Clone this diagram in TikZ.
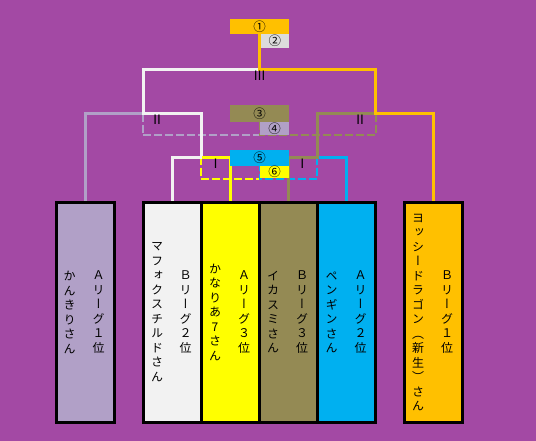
\documentclass[tikz,border=0pt]{standalone}
\usepackage{fontspec}
\newfontfamily\jp{Noto Sans CJK JP}
\newfontfamily\jpv[RawFeature=+vert]{Noto Sans CJK JP}
\definecolor{bgp}{HTML}{A349A4}
\definecolor{cor}{HTML}{FFC000}
\definecolor{cgr}{HTML}{DCDCDC}
\definecolor{cwh}{HTML}{F2F2F2}
\definecolor{clv}{HTML}{B1A0C7}
\definecolor{cye}{HTML}{FFFF00}
\definecolor{col}{HTML}{948A54}
\definecolor{cbl}{HTML}{00B0F0}
\pgfdeclarelayer{back}
\pgfdeclarelayer{lines}
\pgfsetlayers{back,lines,main}
\tikzset{
  lbox/.style={draw=black, line width=3pt, minimum width=58pt, minimum height=219.5pt, inner sep=0pt, outer sep=0pt},
  vtext/.style={align=center, inner sep=0pt, font=\jpv\fontsize{12}{14.5}\selectfont},
  numbox/.style={inner sep=0pt, outer sep=0pt, font=\jp\fontsize{12.5}{12.5}\selectfont},
  roman/.style={inner sep=0pt, font=\jp\fontsize{13}{13}\selectfont},
  solid line/.style={line width=3pt},
  dash line/.style={line width=2pt, dash pattern=on 8pt off 3pt}
}
\begin{document}
\begin{tikzpicture}[x=1pt,y=-1pt]
\begin{pgfonlayer}{back}
\fill[bgp] (0,0) rectangle (536,441);
\end{pgfonlayer}
\useasboundingbox (0,0) rectangle (536,441);

% player boxes
\node[lbox, fill=clv] (b1) at (85.5,312.25) {};
\node[lbox, fill=cwh] (b2) at (172.5,312.25) {};
\node[lbox, fill=cye] (b3) at (230.5,312.25) {};
\node[lbox, fill=col] (b4) at (288.5,312.25) {};
\node[lbox, fill=cbl] (b5) at (346.5,312.25) {};
\node[lbox, fill=cor] (b6) at (433,312.25) {};

% texts
\node[vtext] (b1r) at ([xshift=13pt]b1.center) {Ａ\\リ\\ー\\グ\\１\\位};
\node[vtext] (b1n) at ([xshift=-16pt]b1.center) {か\\ん\\き\\り\\さ\\ん};
\node[vtext] (b2r) at ([xshift=13pt]b2.center) {Ｂ\\リ\\ー\\グ\\２\\位};
\node[vtext] (b2n) at ([xshift=-15.5pt]b2.center) {マ\\フ\\ォ\\ク\\ス\\チ\\ル\\ド\\さ\\ん};
\node[vtext] (b3r) at ([xshift=13.5pt]b3.center) {Ａ\\リ\\ー\\グ\\３\\位};
\node[vtext] (b3n) at ([xshift=-15.5pt]b3.center) {か\\な\\り\\あ\\7\\さ\\ん};
\node[vtext] (b4r) at ([xshift=13.5pt]b4.center) {Ｂ\\リ\\ー\\グ\\３\\位};
\node[vtext] (b4n) at ([xshift=-15.5pt]b4.center) {イ\\カ\\ス\\ミ\\さ\\ん};
\node[vtext] (b5r) at ([xshift=14pt]b5.center) {Ａ\\リ\\ー\\グ\\２\\位};
\node[vtext] (b5n) at ([xshift=-15pt]b5.center) {ペ\\ン\\ギ\\ン\\さ\\ん};
\node[vtext] (b6r) at ([xshift=14pt]b6.center) {Ｂ\\リ\\ー\\グ\\１\\位};
\node[vtext] (b6n) at ([xshift=-15pt]b6.center) {ヨ\\ッ\\シ\\ー\\ド\\ラ\\ゴ\\ン\\︵\\新\\生\\︶\\さ\\ん};

% ranking boxes
\node[numbox, fill=cor, minimum width=59pt, minimum height=14.5pt] (n1) at (259.5,26.3) {①};
\node[numbox, fill=cgr, minimum width=28.5pt, minimum height=14pt] (n2) at (274.75,40.7) {②};
\node[numbox, fill=col, minimum width=59pt, minimum height=16.7pt] (n3) at (259.5,113.35) {③};
\node[numbox, fill=clv, minimum width=29pt, minimum height=13.3pt] (n4) at (274.5,128.35) {④};
\node[numbox, fill=cbl, minimum width=59pt, minimum height=15.7pt] (n5) at (259.5,157.85) {⑤};
\node[numbox, fill=cye, minimum width=29pt, minimum height=12.6pt] (n6) at (274.5,172) {⑥};

% junctions
\coordinate (r3) at (259.5,69.5);
\coordinate (r2l) at (143.5,113.8);
\coordinate (r2r) at (375.5,113.8);
\coordinate (r1l) at (201.5,157.5);
\coordinate (r1r) at (317.5,157.5);
\coordinate (d2) at (259.5,135.5);
\coordinate (d2l) at (143,135.5);
\coordinate (d2r) at (375.5,135.5);
\coordinate (d1) at (259.5,179.3);
\coordinate (d1l) at (201,179.3);
\coordinate (d1r) at (317,179.3);

% round labels
\node[roman] (l3) at (259.5,76) {Ⅲ};
\node[roman] (l2a) at (157,120) {Ⅱ};
\node[roman] (l2b) at (360,120) {Ⅱ};
\node[roman] (l1a) at (215.7,164) {Ⅰ};
\node[roman] (l1b) at (302.3,164) {Ⅰ};

\begin{pgfonlayer}{lines}
% placement matches (dashed)
\draw[dash line, clv] (r2l -| d2l) -- (d2l) -- (d2);
\draw[dash line, col] (r2r) -- (d2r) -- (d2) -- (d2 |- n3.south);
\draw[dash line, cye] (r1l -| d1l) -- (d1l) -- (d1);
\draw[dash line, cbl] (r1r -| d1r) -- (d1r) -- (d1) -- (d1 |- n5.south);
% main bracket
\draw[solid line, clv] (b1.north) |- (r2l);
\draw[solid line, cwh] (b2.north) |- (r1l) -- (r1l |- r2l) -- (r2l) -- (r2l |- r3) -- (r3);
\draw[solid line, cye] (b3.north) |- (r1l);
\draw[solid line, cbl] (b5.north) |- (r1r);
\draw[solid line, col] (b4.north) |- (r1r) -- (r1r |- r2r) -- (r2r);
\draw[solid line, cor] (b6.north) |- (r2r) -- (r2r |- r3) -- (r3) -- (r3 |- n1.center);
\end{pgfonlayer}
\end{tikzpicture}
\end{document}
